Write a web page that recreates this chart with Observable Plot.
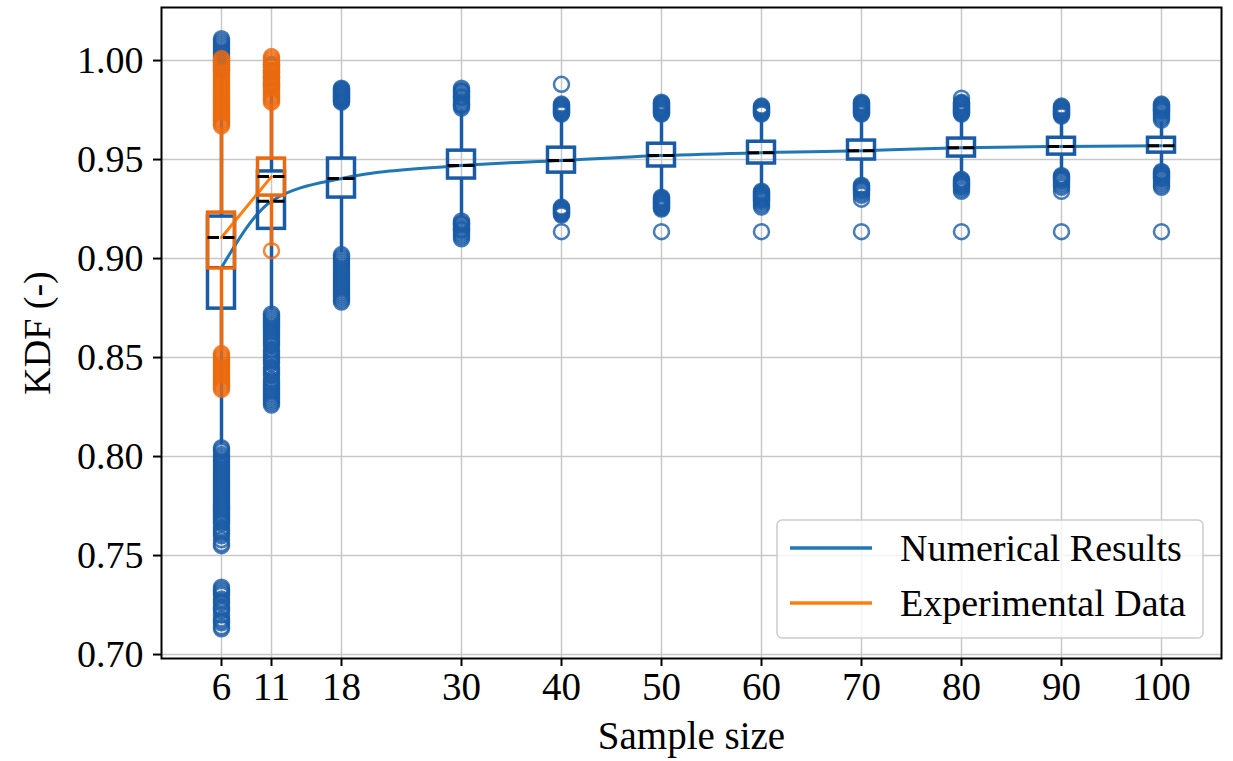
<!DOCTYPE html>
<html>
<head>
<meta charset="utf-8">
<script src="https://cdn.jsdelivr.net/npm/d3@7"></script>
<script src="https://cdn.jsdelivr.net/npm/@observablehq/plot@0.6"></script>
<style>
  body { margin: 0; background: #fff; }
  #chart { width: 1233px; height: 761px; }
</style>
</head>
<body>
<div id="chart"></div>
<script>
// ---- data ----
const sampleSizes = [6, 11, 18, 30, 40, 50, 60, 70, 80, 90, 100];
const numQ1  = [0.8747, 0.915, 0.9308, 0.9404, 0.9434, 0.9465, 0.948, 0.950, 0.9515, 0.9525, 0.9535];
const numMed = [0.8955, 0.929, 0.9404, 0.947, 0.9495, 0.952, 0.9535, 0.9545, 0.956, 0.9566, 0.957];
const numQ3  = [0.9212, 0.944, 0.9505, 0.9545, 0.956, 0.958, 0.959, 0.9596, 0.9606, 0.961, 0.961];
const numLo  = [0.806, 0.874, 0.903, 0.921, 0.927, 0.932, 0.935, 0.938, 0.941, 0.943, 0.945];
const numHi  = [0.993, 0.985, 0.978, 0.975, 0.972, 0.972, 0.972, 0.972, 0.972, 0.971, 0.969];
const numFliers = [
  // n = 6
  [1.011, 1.010, 1.009, 1.008, 1.007, 1.006, 1.005, 1.004, 1.003, 1.002, 1.001, 1.000,
   0.999, 0.998, 0.997, 0.996, 0.995,
   0.8045, 0.8035, 0.8025, 0.801, 0.800, 0.799, 0.798, 0.797, 0.796, 0.795, 0.794, 0.793,
   0.792, 0.791, 0.790, 0.789, 0.788, 0.787, 0.786, 0.785, 0.784, 0.783, 0.782, 0.781,
   0.780, 0.779, 0.778, 0.777, 0.776, 0.775, 0.774, 0.773, 0.772, 0.771, 0.770, 0.769,
   0.768, 0.767, 0.766, 0.764, 0.763, 0.762, 0.761, 0.760, 0.758, 0.756, 0.755,
   0.734, 0.733, 0.732, 0.731, 0.730, 0.728, 0.727, 0.726, 0.724, 0.723, 0.722, 0.720,
   0.718, 0.717, 0.716, 0.714, 0.713],
  // n = 11
  [0.998, 0.997, 0.995, 0.994, 0.992, 0.991, 0.989, 0.988, 0.987,
   0.872, 0.871, 0.870, 0.869, 0.868, 0.867, 0.866, 0.865, 0.864, 0.863, 0.862, 0.861,
   0.860, 0.859, 0.858, 0.857, 0.856, 0.854, 0.853, 0.852, 0.851, 0.850, 0.849, 0.848,
   0.847, 0.845, 0.844, 0.843, 0.842, 0.841, 0.839, 0.838, 0.837, 0.836, 0.835, 0.834,
   0.833, 0.832, 0.831, 0.830, 0.829, 0.828, 0.827, 0.826],
  // n = 18
  [0.986, 0.9855, 0.985, 0.9845, 0.984, 0.9835, 0.983, 0.9825, 0.982, 0.9815, 0.981,
   0.9805, 0.980, 0.9795, 0.979,
   0.902, 0.901, 0.900, 0.899, 0.898, 0.897, 0.896, 0.895, 0.894, 0.893, 0.892, 0.891,
   0.890, 0.889, 0.888, 0.887, 0.886, 0.885, 0.884, 0.883, 0.882, 0.881, 0.880, 0.879, 0.878],
  // n = 30
  [0.986, 0.985, 0.9845, 0.984, 0.983, 0.982, 0.9815, 0.981, 0.980, 0.979, 0.978,
   0.9775, 0.977, 0.976,
   0.919, 0.918, 0.9175, 0.917, 0.916, 0.915, 0.9145, 0.914, 0.913, 0.912, 0.911, 0.910],
  // n = 40
  [0.988, 0.978, 0.9775, 0.977, 0.9765, 0.976, 0.9755, 0.975, 0.9745, 0.974, 0.9735, 0.973,
   0.926, 0.9255, 0.925, 0.9245, 0.924, 0.9235, 0.923, 0.9225, 0.922, 0.9136],
  // n = 50
  [0.979, 0.9785, 0.978, 0.9775, 0.977, 0.9765, 0.976, 0.9755, 0.975, 0.9745, 0.974,
   0.9735, 0.973,
   0.931, 0.9305, 0.930, 0.9295, 0.929, 0.9285, 0.928, 0.9275, 0.927, 0.9265, 0.926,
   0.9255, 0.925, 0.9136],
  // n = 60
  [0.977, 0.9765, 0.976, 0.9755, 0.975, 0.9745, 0.974, 0.9735, 0.973,
   0.934, 0.9335, 0.933, 0.9325, 0.932, 0.9315, 0.931, 0.9305, 0.930, 0.9295, 0.929,
   0.928, 0.927, 0.926, 0.9136],
  // n = 70
  [0.979, 0.9785, 0.978, 0.9775, 0.977, 0.9765, 0.976, 0.9755, 0.975, 0.9745, 0.974,
   0.9735, 0.973,
   0.937, 0.9365, 0.936, 0.9355, 0.935, 0.9345, 0.934, 0.933, 0.932, 0.930, 0.9136],
  // n = 80
  [0.981, 0.979, 0.9785, 0.978, 0.9775, 0.977, 0.9765, 0.976, 0.9755, 0.975, 0.9745,
   0.974, 0.9735, 0.973,
   0.940, 0.9395, 0.939, 0.9385, 0.938, 0.9375, 0.937, 0.9365, 0.936, 0.935, 0.934, 0.9136],
  // n = 90
  [0.977, 0.9765, 0.976, 0.9755, 0.975, 0.9745, 0.974, 0.9735, 0.973, 0.9725, 0.972,
   0.942, 0.9415, 0.941, 0.9405, 0.940, 0.9395, 0.939, 0.938, 0.937, 0.936, 0.934, 0.9136],
  // n = 100
  [0.978, 0.9775, 0.977, 0.9765, 0.976, 0.9755, 0.975, 0.9745, 0.974, 0.973, 0.972,
   0.971, 0.970,
   0.944, 0.9435, 0.943, 0.9425, 0.942, 0.9415, 0.941, 0.9405, 0.940, 0.939, 0.938,
   0.937, 0.936, 0.9136]
];

const expSizes = [6, 11];
const expQ1  = [0.895, 0.9318];
const expMed = [0.9106, 0.9414];
const expQ3  = [0.9232, 0.9505];
const expLo  = [0.853, 0.906];
const expHi  = [0.966, 0.978];
const expFliers = [
  // n = 6
  [1.001, 1.000, 0.999, 0.998, 0.997, 0.996, 0.995, 0.994, 0.993, 0.992, 0.991, 0.990,
   0.989, 0.988, 0.987, 0.986, 0.985, 0.984, 0.983, 0.982, 0.981, 0.980, 0.979, 0.978,
   0.977, 0.976, 0.975, 0.974, 0.973, 0.972, 0.971, 0.970, 0.969, 0.968, 0.967,
   0.852, 0.851, 0.850, 0.849, 0.848, 0.847, 0.846, 0.845, 0.844, 0.843, 0.842, 0.841,
   0.840, 0.839, 0.838, 0.837, 0.836, 0.835, 0.834],
  // n = 11
  [1.002, 1.001, 1.000, 0.999, 0.998, 0.997, 0.996, 0.995, 0.994, 0.993, 0.992, 0.991,
   0.990, 0.989, 0.988, 0.987, 0.986, 0.985, 0.984, 0.983, 0.982, 0.981, 0.980, 0.979,
   0.904]
];

const xTicks = [6, 11, 18, 30, 40, 50, 60, 70, 80, 90, 100];
const yTicks = [0.70, 0.75, 0.80, 0.85, 0.90, 0.95, 1.00];
const seriesNames = ["Numerical Results", "Experimental Data"];

// ---- styles ----
const BLUE_BOX = "#1a5ba6";
const BLUE_LINE = "#1f77b4";
const ORANGE_BOX = "#ec6a0e";
const ORANGE_LINE = "#ff7f0e";
const HALF = 1.35; // half box width in x units
const FONT = "'Liberation Serif', 'Times New Roman', serif";

function table(ns, q1, med, q3, lo, hi) {
  return ns.map((n, i) => ({n, q1: q1[i], med: med[i], q3: q3[i], lo: lo[i], hi: hi[i]}));
}
const num = table(sampleSizes, numQ1, numMed, numQ3, numLo, numHi);
const exp = table(expSizes, expQ1, expMed, expQ3, expLo, expHi);
const numFl = sampleSizes.flatMap((n, i) => numFliers[i].map(v => ({n, v})));
const expFl = expSizes.flatMap((n, i) => expFliers[i].map(v => ({n, v})));

function boxMarks(data, fl, boxColor) {
  return [
    Plot.dot(fl, {x: "n", y: "v", r: 7.5, stroke: boxColor, strokeWidth: 2.5, strokeOpacity: 0.8, fill: "none"}),
    Plot.ruleX(data, {x: "n", y1: "q3", y2: "hi", stroke: boxColor, strokeWidth: 3.5}),
    Plot.ruleX(data, {x: "n", y1: "lo", y2: "q1", stroke: boxColor, strokeWidth: 3.5}),
    Plot.rect(data, {x1: d => d.n - HALF, x2: d => d.n + HALF, y1: "q1", y2: "q3", stroke: boxColor, strokeWidth: 3.5, fill: "none"}),
    Plot.ruleY(data, {y: "med", x1: d => d.n - HALF, x2: d => d.n + HALF, stroke: "black", strokeWidth: 3, strokeDasharray: "11.5,4"})
  ];
}

const svg = Plot.plot({
  width: 1233,
  height: 761,
  marginLeft: 161,
  marginRight: 12,
  marginTop: 7,
  marginBottom: 103,
  style: {fontFamily: FONT, fontSize: "38px", background: "white", color: "black", overflow: "visible"},
  x: {type: "linear", domain: [0, 106]},
  y: {type: "linear", domain: [0.698, 1.0268]},
  marks: [
    Plot.gridX(xTicks, {stroke: "#c8c8c8", strokeOpacity: 1, strokeWidth: 1.5}),
    Plot.gridY(yTicks, {stroke: "#c8c8c8", strokeOpacity: 1, strokeWidth: 1.5}),
    Plot.line(num, {x: "n", y: "med", stroke: BLUE_LINE, strokeWidth: 3, curve: "monotone-x"}),
    ...boxMarks(num, numFl, BLUE_BOX),
    Plot.line(exp, {x: "n", y: "med", stroke: ORANGE_LINE, strokeWidth: 3}),
    ...boxMarks(exp, expFl, ORANGE_BOX),
    Plot.frame({stroke: "black", strokeWidth: 2}),
    Plot.axisX(xTicks, {tickSize: 8, tickPadding: 6, strokeWidth: 2, label: "Sample size", labelAnchor: "center", labelOffset: 90, labelArrow: "none", fontSize: 39}),
    Plot.axisY(yTicks, {tickSize: 8, tickPadding: 10, strokeWidth: 2, tickFormat: d3.format(".2f"), label: "KDF (-)", labelAnchor: "center", labelOffset: 138, labelArrow: "none"})
  ]
});

// ---- legend ----
const g = d3.select(svg).append("g").attr("class", "legend");
g.append("rect").attr("x", 777).attr("y", 520).attr("width", 426).attr("height", 118)
  .attr("rx", 5).attr("fill", "white").attr("fill-opacity", 0.8)
  .attr("stroke", "#cccccc").attr("stroke-width", 1.5);
[BLUE_LINE, ORANGE_LINE].forEach((c, i) => {
  const y = 548 + i * 55;
  g.append("line").attr("x1", 790).attr("x2", 872).attr("y1", y).attr("y2", y)
    .attr("stroke", c).attr("stroke-width", 3.5);
  g.append("text").attr("x", 900).attr("y", y + 13).attr("fill", "black")
    .attr("text-anchor", "start")
    .attr("font-family", FONT).attr("font-size", "38px").text(seriesNames[i]);
});

document.getElementById("chart").appendChild(svg);
</script>
</body>
</html>
